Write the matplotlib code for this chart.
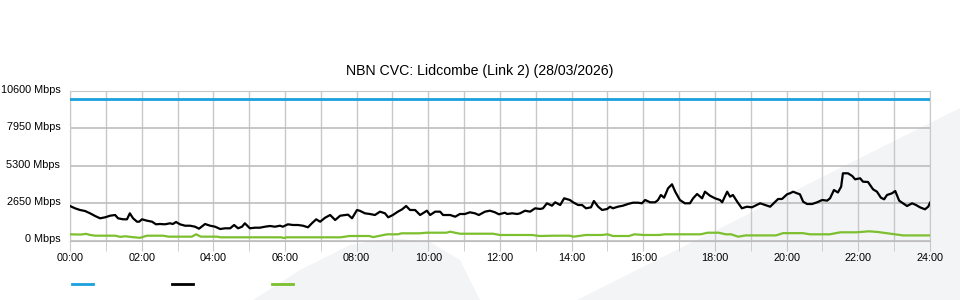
import matplotlib
matplotlib.use('Agg')
import matplotlib.pyplot as plt
import matplotlib.transforms as mtransforms
from matplotlib.lines import Line2D
from matplotlib.patches import Polygon

plt.rcParams['font.family'] = ['Liberation Sans', 'DejaVu Sans']

title = 'NBN CVC: Lidcombe (Link 2) (28/03/2026)'

# capacity line (flat all day)
cap_hours = [0, 24]
cap_mbps = [10000, 10000]

# download traffic (black)
dl_hours = [0.00, 0.14, 0.28, 0.42, 0.56, 0.70, 0.84, 0.98, 1.12, 1.26, 1.34, 1.48, 1.59, 1.67,
            1.76, 1.87, 1.93, 2.01, 2.15, 2.29, 2.40, 2.51, 2.65, 2.79, 2.87, 2.96, 3.07, 3.21,
            3.35, 3.49, 3.60, 3.77, 3.91, 4.05, 4.19, 4.33, 4.47, 4.58, 4.69, 4.80, 4.88, 5.02,
            5.16, 5.30, 5.44, 5.58, 5.72, 5.86, 5.94, 6.08, 6.22, 6.36, 6.50, 6.64, 6.75, 6.87,
            6.98, 7.12, 7.26, 7.40, 7.54, 7.68, 7.76, 7.87, 8.01, 8.09, 8.23, 8.37, 8.51, 8.65,
            8.79, 8.88, 9.01, 9.15, 9.27, 9.38, 9.49, 9.63, 9.77, 9.96, 10.05, 10.19, 10.33, 10.41,
            10.61, 10.75, 10.88, 11.02, 11.16, 11.30, 11.41, 11.58, 11.72, 11.86, 11.97, 12.14,
            12.20, 12.34, 12.48, 12.56, 12.70, 12.84, 12.98, 13.12, 13.20, 13.31, 13.45, 13.54,
            13.68, 13.79, 13.95, 14.04, 14.18, 14.29, 14.40, 14.54, 14.62, 14.74, 14.85, 14.99,
            15.07, 15.15, 15.29, 15.43, 15.57, 15.71, 15.85, 15.96, 16.05, 16.19, 16.33, 16.41,
            16.49, 16.58, 16.69, 16.80, 16.89, 17.02, 17.16, 17.30, 17.39, 17.50, 17.64, 17.72,
            17.86, 18.00, 18.14, 18.20, 18.34, 18.42, 18.50, 18.62, 18.75, 18.89, 19.03, 19.12,
            19.26, 19.40, 19.54, 19.68, 19.76, 19.87, 20.01, 20.09, 20.18, 20.29, 20.37, 20.46,
            20.57, 20.71, 20.85, 20.99, 21.13, 21.21, 21.32, 21.43, 21.52, 21.57, 21.71, 21.83,
            21.91, 22.05, 22.13, 22.27, 22.41, 22.52, 22.63, 22.72, 22.80, 22.94, 23.03, 23.14,
            23.25, 23.36, 23.50, 23.61, 23.72, 23.86, 23.95, 24.00]
dl_mbps = [2441, 2278, 2158, 2087, 1924, 1734, 1571, 1641, 1755, 1804, 1571, 1500, 1500, 1924,
           1571, 1330, 1330, 1500, 1401, 1330, 1146, 1168, 1146, 1217, 1168, 1309, 1146, 1047,
           1047, 976, 835, 1168, 1047, 976, 814, 863, 863, 1097, 863, 976, 1217, 863,
           906, 906, 976, 1026, 976, 1047, 976, 1146, 1097, 1097, 1047, 934, 1217, 1500,
           1330, 1613, 1804, 1450, 1755, 1804, 1830, 1571, 2158, 2100, 1924, 1875, 1804, 2040,
           1924, 1641, 1804, 2040, 2208, 2441, 2158, 2158, 1804, 2109, 1804, 2040, 2040, 1804,
           1804, 1684, 1875, 1875, 1995, 1924, 1804, 2040, 2109, 1995, 1854, 1967,
           1875, 1924, 1875, 1924, 2109, 2040, 2278, 2230, 2278, 2632, 2462, 2703,
           2512, 2986, 2866, 2703, 2512, 2512, 2278, 2349, 2795, 2392, 2158, 2230,
           2392, 2278, 2392, 2462, 2583, 2675, 2675, 2632, 2866, 2703, 2703, 2866,
           3220, 3029, 3694, 3977, 3453, 2866, 2632, 2632, 2986, 3290, 2986, 3453,
           3170, 2986, 2866, 2703, 3453, 3099, 3220, 2745, 2278, 2392, 2349, 2462,
           2632, 2512, 2392, 2745, 2937, 2937, 3269, 3340, 3453, 3340, 3269, 2745,
           2583, 2583, 2703, 2866, 2820, 2986, 3573, 3400, 3807, 4755, 4755, 4564,
           4330, 4401, 4161, 4140, 3623, 3453, 3029, 2915, 3220, 3340, 3503, 2816,
           2632, 2441, 2632, 2512, 2349, 2208, 2392, 2675]

# upload traffic (green)
ul_hours = [0.00, 0.30, 0.45, 0.55, 0.70, 1.26, 1.40, 1.55, 1.70, 1.95, 2.15, 2.60, 2.75, 3.40,
            3.52, 3.65, 4.10, 4.20, 5.90, 5.95, 6.05, 7.55, 7.80, 8.35, 8.46, 8.85, 9.15, 9.25,
            9.75, 9.95, 10.50, 10.61, 10.88, 11.80, 12.00, 12.90, 13.10, 13.50, 13.95, 14.05,
            14.40, 14.85, 15.00, 15.15, 15.60, 15.75, 15.95, 16.05, 16.45, 16.60, 17.60, 17.80,
            18.10, 18.30, 18.45, 18.65, 18.85, 19.70, 19.90, 20.45, 20.65, 21.20, 21.50, 21.95,
            22.30, 22.55, 22.90, 23.25, 24.00]
ul_mbps = [438, 420, 470, 400, 340, 340, 260, 300, 250, 190, 340, 340, 272, 272,
           440, 272, 272, 225, 225, 175, 225, 225, 318, 318, 240, 438, 438, 508,
           508, 552, 552, 620, 480, 480, 390, 390, 318, 340, 340, 270,
           390, 390, 438, 318, 318, 438, 400, 390, 390, 438, 438, 552,
           552, 438, 438, 270, 360, 360, 520, 520, 438, 438, 580, 580,
           650, 600, 480, 360, 360]

y_ticks = [0, 2650, 5300, 7950, 10600]
x_ticks = list(range(0, 25, 2))

fig = plt.figure(figsize=(9.6, 3.0), dpi=100)

# faint watermark shapes in the background
wm = '#f3f4f6'
fig.add_artist(Polygon([(577 / 960, 0), (960 / 960, 192 / 300), (960 / 960, 0)],
                       closed=True, facecolor=wm, edgecolor='none', zorder=0))
fig.add_artist(Polygon([(253 / 960, 0), (300 / 960, 30 / 300), (350 / 960, 55 / 300),
                        (392 / 960, 62 / 300), (430 / 960, 58 / 300), (460 / 960, 40 / 300),
                        (480 / 960, 0)],
                       closed=True, facecolor=wm, edgecolor='none', zorder=0))

ax = fig.add_axes([70 / 960, (300 - 240.5) / 300, 860 / 960, 149.8 / 300])
ax.patch.set_alpha(0)

ax.plot(cap_hours, cap_mbps, color='#1aa0dc', lw=2, zorder=3)
ax.plot(dl_hours, dl_mbps, color='black', lw=1.6, zorder=4)
ax.plot(ul_hours, ul_mbps, color='#7cbf2f', lw=1.6, zorder=3)

ax.set_xlim(0, 24)
ax.set_ylim(0, 10600)
ax.set_yticks(y_ticks)
ax.set_yticklabels([f'{v} Mbps' for v in y_ticks])
ax.set_xticks(x_ticks)
ax.set_xticklabels([f'{h:02d}:00' for h in x_ticks])
ax.set_xticks(range(1, 24, 2), minor=True)

gc = '#c8c8c8'
ax.grid(True, which='both', axis='x', color=gc, lw=1)
ax.grid(True, which='major', axis='y', color='#bdbdbd', lw=1.2)
ax.set_axisbelow(True)
for s in ax.spines.values():
    s.set_color(gc)
ax.spines['bottom'].set_color('#bdbdbd')

ax.tick_params(axis='x', which='both', length=7, color=gc, labelsize=7.8, pad=2)
ax.tick_params(axis='y', length=0, labelsize=7.8, pad=7)

# y labels sit a couple of pixels above their grid lines
shift = mtransforms.ScaledTranslation(0, 2 / 100, fig.dpi_scale_trans)
for lbl in ax.get_yticklabels():
    lbl.set_transform(lbl.get_transform() + shift)

fig.text(0.5, 1 - 71 / 300, title, fontsize=10.2, ha='center', va='center')

handles = [Line2D([], [], color='#1aa0dc', lw=2),
           Line2D([], [], color='black', lw=2),
           Line2D([], [], color='#7cbf2f', lw=2)]
fig.legend(handles, ['', '', ''], ncol=3, loc='lower left', bbox_to_anchor=(62 / 960, 0.0),
           frameon=False, fontsize=8, handlelength=1.9, handletextpad=0, columnspacing=7.1)

fig.savefig('out.png', dpi=100)
